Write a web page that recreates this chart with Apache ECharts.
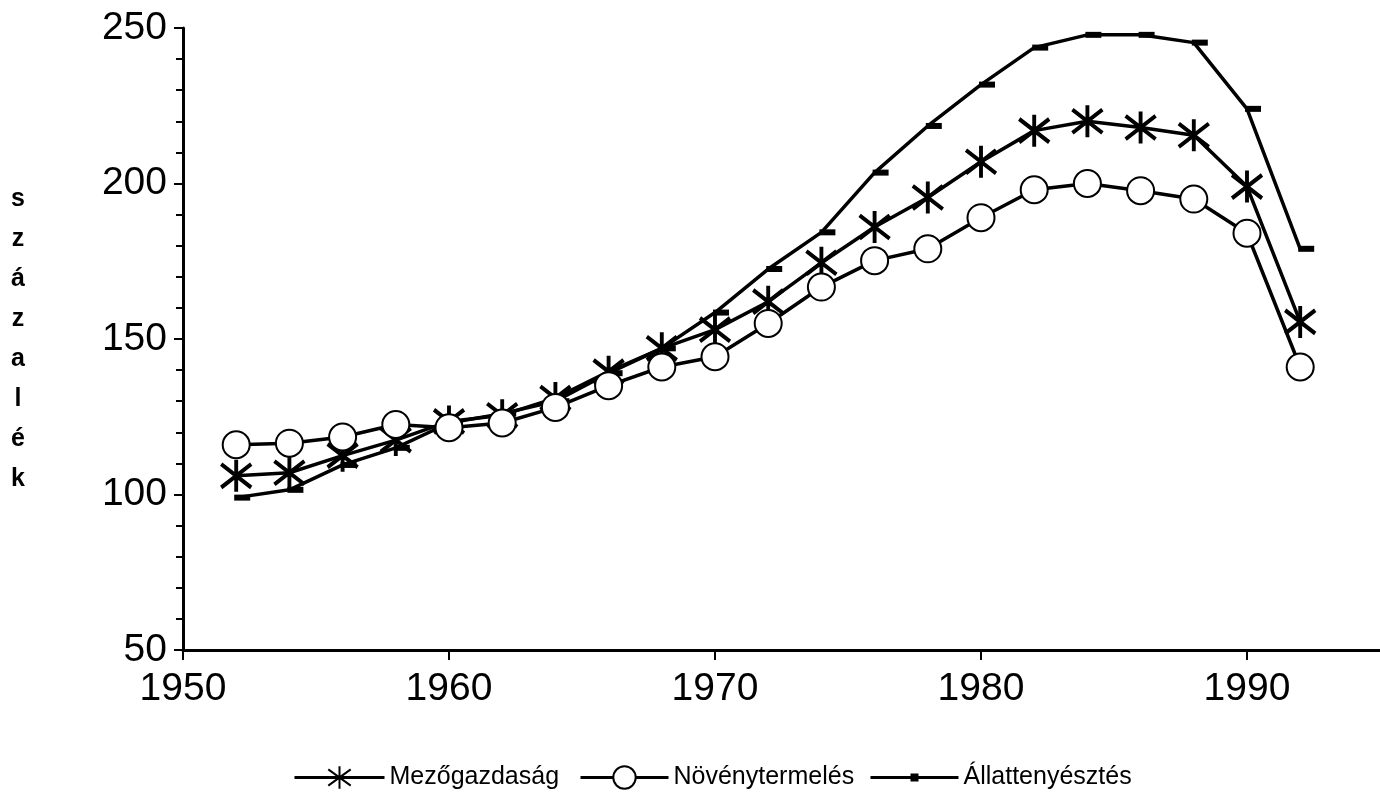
<!DOCTYPE html>
<html>
<head>
<meta charset="utf-8">
<title>Mezőgazdasági termelés</title>
<script src="https://cdn.jsdelivr.net/npm/echarts@6/dist/echarts.min.js"></script>
<style>
  html, body { margin: 0; padding: 0; background: #fff; }
  #chart { width: 1380px; height: 802px; }
</style>
</head>
<body>
<div id="chart"></div>
<script>
// évek (kétévente)
var years = [1952, 1954, 1956, 1958, 1960, 1962, 1964, 1966, 1968, 1970,
             1972, 1974, 1976, 1978, 1980, 1982, 1984, 1986, 1988, 1990, 1992];
var mezogazdasag = [106, 107, 112.5, 117.5, 123.5, 125.5, 131, 139.5, 147, 153,
                    162, 174.5, 186, 195.5, 207, 217, 220, 218, 215.5, 199, 155.5];
var novenytermeles = [116, 116.5, 118.5, 122.5, 121.5, 123, 128, 135, 141, 144.3,
                      155, 166.7, 175.2, 179, 189, 198, 200, 197.7, 195, 184, 141];
var allattenyesztes = [99, 101.5, 109.5, 115, 123, 126, 130, 139, 147, 158.5,
                       172.5, 184.3, 203.5, 218.5, 231.8, 243.7, 247.8, 247.8, 245.3, 224, 179];
var xTicks = [1950, 1960, 1970, 1980, 1990];

function pairs(vals) {
  return years.map(function (y, i) { return [y, vals[i]]; });
}

var asterisk = 'path://M10,0L10,22M1,3L19,19M1,19L19,3';
var font = 'Liberation Sans, Arial, sans-serif';
var legendText = { fontFamily: font, fontSize: 25, color: '#000', padding: [0, 0, 0, 0] };

// egy-egy jelmagyarázat elemenként, hogy a jelek mérete eltérhessen
function legendItem(name, left, w, h, top) {
  return {
    data: [name], left: left, top: top,
    itemWidth: w, itemHeight: h, itemGap: 0,
    lineStyle: { width: 3 },
    textStyle: legendText
  };
}

var myChart = echarts.init(document.getElementById('chart'));
var option = {
  backgroundColor: '#fff',
  animation: false,
  grid: { left: 183, right: 0, top: 28, bottom: 152, containLabel: false },
  legend: [
    legendItem('Mezőgazdaság', 288, 90, 28, 760),
    legendItem('Növénytermelés', 574, 88, 28, 760),
    legendItem('Állattenyésztés', 864, 88, 10, 760)
  ],
  xAxis: {
    type: 'value',
    min: 1950,
    max: 1995,
    interval: 10,
    splitLine: { show: false },
    axisLine: { onZero: false, lineStyle: { color: '#000', width: 3 } },
    axisTick: { customValues: xTicks, length: 10, lineStyle: { color: '#000', width: 2 } },
    axisLabel: {
      customValues: xTicks, margin: 20, fontFamily: font, fontSize: 39, color: '#000',
      formatter: function (v) { return String(v); }
    }
  },
  yAxis: {
    type: 'value',
    min: 50,
    max: 250,
    interval: 50,
    name: 's\nz\ná\nz\na\nl\né\nk',
    nameLocation: 'middle',
    nameRotate: 0,
    nameGap: 165,
    nameTextStyle: { fontFamily: font, fontSize: 25, fontWeight: 'bold', color: '#000', lineHeight: 40, align: 'center' },
    splitLine: { show: false },
    axisLine: { show: true, lineStyle: { color: '#000', width: 3 } },
    axisTick: { show: true, length: 9, lineStyle: { color: '#000', width: 2 } },
    minorTick: { show: true, splitNumber: 5, length: 7, lineStyle: { color: '#000', width: 2 } },
    axisLabel: { margin: 16, fontFamily: font, fontSize: 39, color: '#000' }
  },
  series: [
    {
      name: 'Mezőgazdaság',
      type: 'line',
      z: 3,
      data: pairs(mezogazdasag),
      symbol: asterisk,
      symbolSize: [30, 32],
      lineStyle: { color: '#000', width: 3.5 },
      itemStyle: { color: '#000', borderColor: '#000', borderWidth: 4 }
    },
    {
      name: 'Növénytermelés',
      type: 'line',
      z: 4,
      data: pairs(novenytermeles),
      symbol: 'emptyCircle',
      symbolSize: 27,
      lineStyle: { color: '#000', width: 3.5 },
      itemStyle: { color: '#000', borderColor: '#000', borderWidth: 3.5 }
    },
    {
      name: 'Állattenyésztés',
      type: 'line',
      z: 2,
      data: pairs(allattenyesztes),
      symbol: 'rect',
      symbolSize: [16, 6],
      symbolOffset: [6, 0],
      lineStyle: { color: '#000', width: 3.5 },
      itemStyle: { color: '#000' }
    }
  ]
};
myChart.setOption(option);
</script>
</body>
</html>
